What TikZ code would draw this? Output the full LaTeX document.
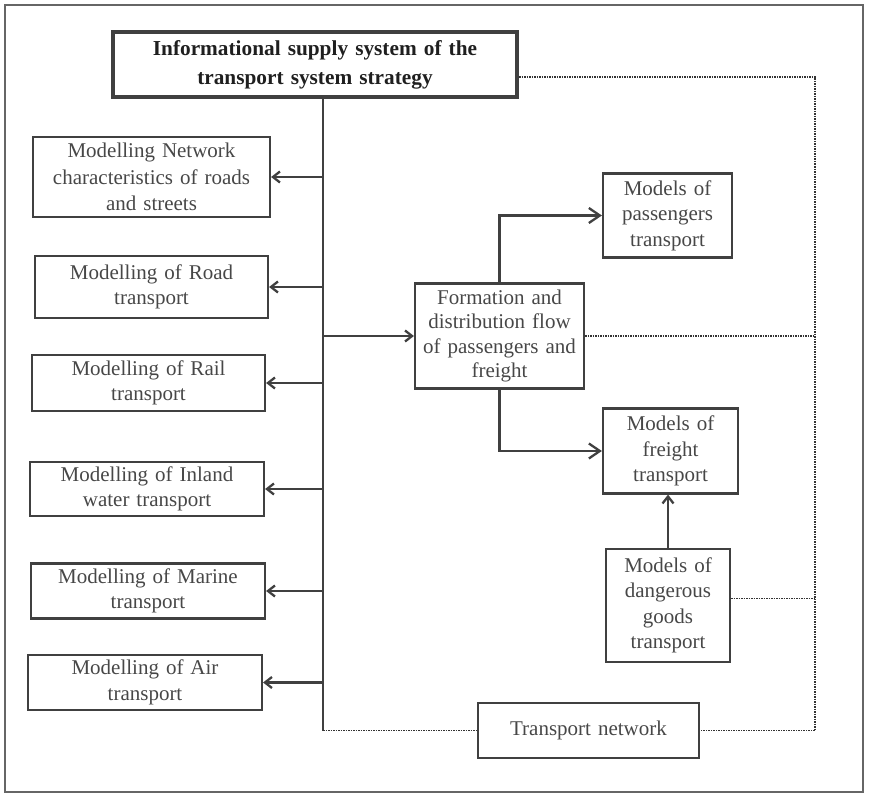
\documentclass[tikz,border=0pt]{standalone}
\usepackage{fontspec}
\setmainfont{Liberation Serif}
\usetikzlibrary{arrows.meta}

\begin{document}
\begin{tikzpicture}[x=1pt,y=-1pt,
  box/.style={draw=black!75,line width=2.2pt,inner sep=0pt,align=center,text=black!72,font=\fontsize{21}{25.5}\selectfont},
  link/.style={draw=black!75,line width=2.3pt},
  dots/.style={draw=black!80,line width=1.8pt,dash pattern=on 1.5pt off 1pt},
  barb/.style={-{Straight Barb[length=7pt,width=11pt]}},
  bigbarb/.style={-{Straight Barb[length=11pt,width=15pt]}}]
\useasboundingbox (0,0) rectangle (869,794);
\draw[black!60,line width=1.4pt] (5,5) rectangle (863,792);

\node[box,line width=4pt,minimum width=404pt,minimum height=65pt,text width=390pt,text=black!88,font=\bfseries\fontsize{21.3}{29}\selectfont] (top) at (315,64.5) {Informational supply system of the\\transport system strategy};

\node[box,minimum width=237pt,minimum height=80pt,text width=225pt,font=\fontsize{21}{26.5}\selectfont] (net) at (151.5,177) {Modelling Network\\characteristics of roads\\and streets};
\node[box,minimum width=233pt,minimum height=62pt,text width=220pt] (road) at (151.5,287) {Modelling of Road\\transport};
\node[box,minimum width=233pt,minimum height=56pt,text width=220pt] (rail) at (148.5,383) {Modelling of Rail\\transport};
\node[box,minimum width=234pt,minimum height=54pt,text width=220pt] (inland) at (147,489) {Modelling of Inland\\water transport};
\node[box,minimum width=234pt,minimum height=55pt,text width=220pt] (marine) at (148,591) {Modelling of Marine\\transport};
\node[box,minimum width=234pt,minimum height=55pt,text width=220pt] (air) at (145,682.5) {Modelling of Air\\transport};

\node[box,minimum width=169pt,minimum height=105pt,text width=160pt,font=\fontsize{21}{24.5}\selectfont] (form) at (499.5,336) {Formation and\\distribution flow\\of passengers and\\freight};
\node[box,minimum width=129pt,minimum height=84pt,text width=120pt] (pass) at (667.5,215.5) {Models of\\passengers\\transport};
\node[box,minimum width=135pt,minimum height=85pt,text width=125pt] (freight) at (670.5,451) {Models of\\freight\\transport};
\node[box,minimum width=124pt,minimum height=113pt,text width=115pt] (dang) at (668,605.5) {Models of\\dangerous\\goods\\transport};
\node[box,minimum width=221pt,minimum height=55pt,text width=210pt] (tnet) at (588.5,730.5) {Transport network};

\coordinate (tr) at (323,0);
\coordinate (rx) at (815,0);

% main line and branches
\draw[link] (top.south -| tr) -- (tnet.west -| tr);
\foreach \n in {net,road,rail,inland,marine,air}
  \draw[link,barb] (\n.east -| tr) -- (\n.east);
\draw[link,barb] (form.west -| tr) -- (form.west);
\draw[link,bigbarb] (form.north) |- (pass.west);
\draw[link,bigbarb] (form.south) |- (freight.west);
\draw[link,barb] (dang.north) -- (dang.north |- freight.south);

% dotted links
\draw[dots] ([yshift=-12.5pt]top.east) -- ([yshift=-12.5pt]top.east -| rx) -- (tnet.east -| rx) -- (tnet.east);
\draw[dots] (form.east) -- (form.east -| rx);
\draw[dots] ([yshift=7pt]dang.east) -- ([yshift=7pt]dang.east -| rx);
\draw[dots] (tnet.west -| tr) -- (tnet.west);
\end{tikzpicture}
\end{document}
